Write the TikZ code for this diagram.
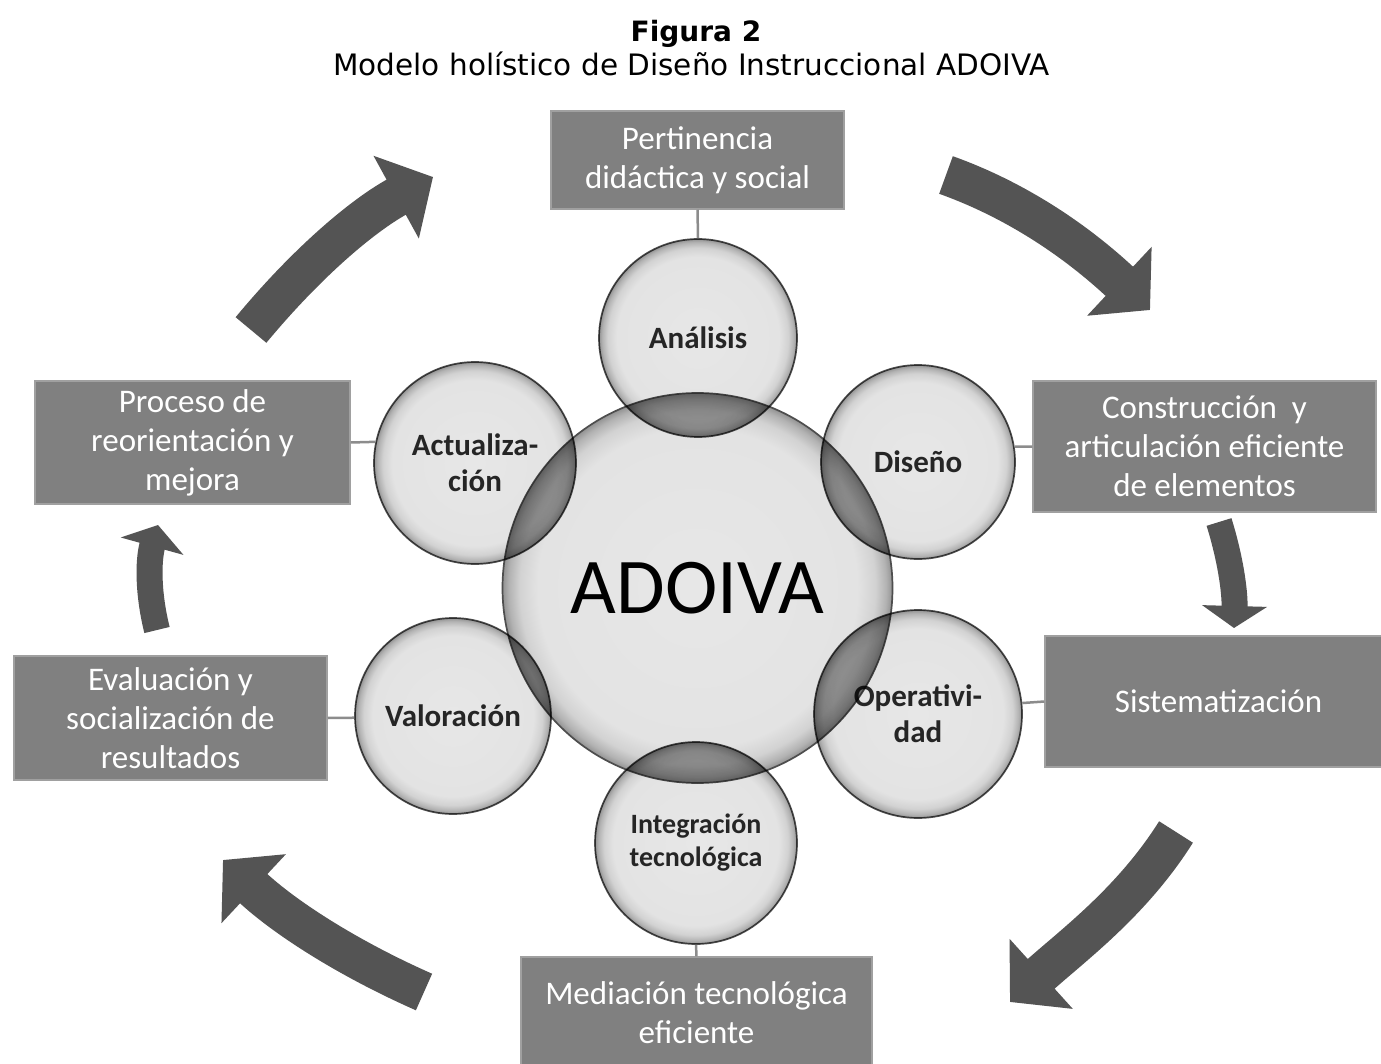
\documentclass[tikz,border=0pt]{standalone}
\usepackage{fontspec}
\setmainfont{Carlito}
\newfontfamily\titlefont{DejaVu Sans}
\usetikzlibrary{arrows.meta}
\definecolor{boxgray}{HTML}{808080}
\definecolor{boxline}{HTML}{A0A0A0}
\definecolor{arrowgray}{HTML}{545454}
\definecolor{ringline}{HTML}{4E4E4E}
\definecolor{connline}{HTML}{8C8C8C}
\definecolor{bfill}{HTML}{E7E7E7}
\definecolor{bfilltwo}{HTML}{E3E3E3}
\definecolor{bmid}{HTML}{D2D2D2}
\definecolor{bdark}{HTML}{B2B2B2}
\definecolor{bedge}{HTML}{929292}
\definecolor{lensgray}{HTML}{BABABA}
\definecolor{ctext}{HTML}{2A2A2A}
\pgfdeclareradialshading{bubble}{\pgfpoint{0bp}{0bp}}{color(0bp)=(bfill); color(20.5bp)=(bfilltwo); color(22.8bp)=(bmid); color(24.2bp)=(bdark); color(25bp)=(bedge); color(50bp)=(bedge)}
\tikzset{
  ring/.style={circle, inner sep=0pt, minimum size=#1, draw=ringline, line width=1.7pt, shading=bubble, text=ctext, align=center, font=\bfseries\fontsize{31}{36}\selectfont},
  gbox/.style 2 args={rectangle, minimum width=#1, minimum height=#2, inner sep=0pt, draw=boxline, line width=1.5pt, fill=boxgray, text=white, align=center, font=\fontsize{33}{39}\selectfont},
  conn/.style={draw=connline, line width=2.5pt},
  bigarrow/.style={draw=arrowgray, line width=40pt, line cap=butt, -{Triangle[length=42pt,width=92pt]}},
  smallarrow/.style={draw=arrowgray, line width=26pt, line cap=butt, -{Triangle[length=22pt,width=64pt]}},
}
\begin{document}
\begin{tikzpicture}[x=1pt,y=-1pt]
\useasboundingbox (0,0) rectangle (1381,1064);
\clip (0,0) rectangle (1381,1064);
\fill[white] (0,0) rectangle (1381,1064);

% title
\node[anchor=base, font=\titlefont\bfseries\fontsize{28}{34}\selectfont] (fig) at (696,42) {Figura 2};
\node[anchor=base, font=\titlefont\fontsize{29.5}{35}\selectfont] (sub) at (691.5,76) {Modelo holístico de Diseño Instruccional ADOIVA};

% central circle
\node[ring=390pt, font=\fontsize{79}{80}\selectfont, text=black] (ad) at (697.5,588) {ADOIVA};

% satellite circles (overlaps darkened by multiplying)
\begin{scope}[blend mode=multiply]
\node[ring=198pt] (an) at (698,338) {Análisis};
\node[ring=194pt] (di) at (918,462) {Diseño};
\node[ring=208pt] (op) at (918,714) {Operativi-\\dad};
\node[ring=202pt, font=\bfseries\fontsize{28}{33}\selectfont] (ig) at (696,843) {Integración\\tecnológica};
\node[ring=196pt] (va) at (453,716) {Valoración};
\node[ring=202pt] (ac) at (475,463) {Actualiza-\\ción};
\foreach \c/\r in {an/99, di/97, op/104, ig/101, va/98, ac/101}{
  \begin{scope}
    \clip (\c.center) circle[radius=\r];
    \fill[lensgray] (ad.center) circle[radius=195];
  \end{scope}
}
\end{scope}

% boxes
\node[gbox={293pt}{98pt}] (per) at (697.5,160) {Pertinencia\\didáctica y social};
\node[gbox={343pt}{131pt}] (con) at (1204.5,446.5) {Construcción\ \ y\\articulación eficiente\\de elementos};
\node[gbox={347pt}{131pt}] (sis) at (1218.5,701.5) {Sistematización};
\node[gbox={351pt}{111pt}] (med) at (696.5,1012.5) {Mediación tecnológica\\eficiente};
\node[gbox={313pt}{124pt}] (eva) at (170.5,718) {Evaluación y\\socialización de\\resultados};
\node[gbox={315pt}{123pt}] (pro) at (192.5,442.5) {Proceso de\\reorientación y\\mejora};

% connectors
\draw[conn] (per.south) -- (an.90);
\draw[conn] (con.west) -- (di.9.2);
\draw[conn] (sis.west) -- (op.6.9);
\draw[conn] (med.north) -- (ig.270);
\draw[conn] (eva.east) -- (va.181.2);
\draw[conn] (pro.east) -- (ac.168.3);

% cycle arrows
\coordinate (a1s) at (251,330); \coordinate (a1e) at (433,177);
\coordinate (a2s) at (946,175); \coordinate (a2e) at (1150,310);
\coordinate (a3s) at (1219,522); \coordinate (a3e) at (1234,628);
\coordinate (a4s) at (1176,832); \coordinate (a4e) at (1010,1002);
\coordinate (a5s) at (424,992); \coordinate (a5e) at (223,860);
\coordinate (a6s) at (157,630); \coordinate (a6e) at (158,525);
\draw[bigarrow] (a1s) .. controls (304,266) and (360,217) .. (a1e);
\draw[bigarrow] (a2s) .. controls (1027,204) and (1087,251) .. (a2e);
\draw[smallarrow] (a3s) .. controls (1230,557) and (1235,591) .. (a3e);
\draw[bigarrow] (a4s) .. controls (1132,902) and (1072,946) .. (a4e);
\draw[bigarrow] (a5s) .. controls (347,958) and (284,917) .. (a5e);
\draw[smallarrow] (a6s) .. controls (148,594) and (148,561) .. (a6e);
\end{tikzpicture}
\end{document}
